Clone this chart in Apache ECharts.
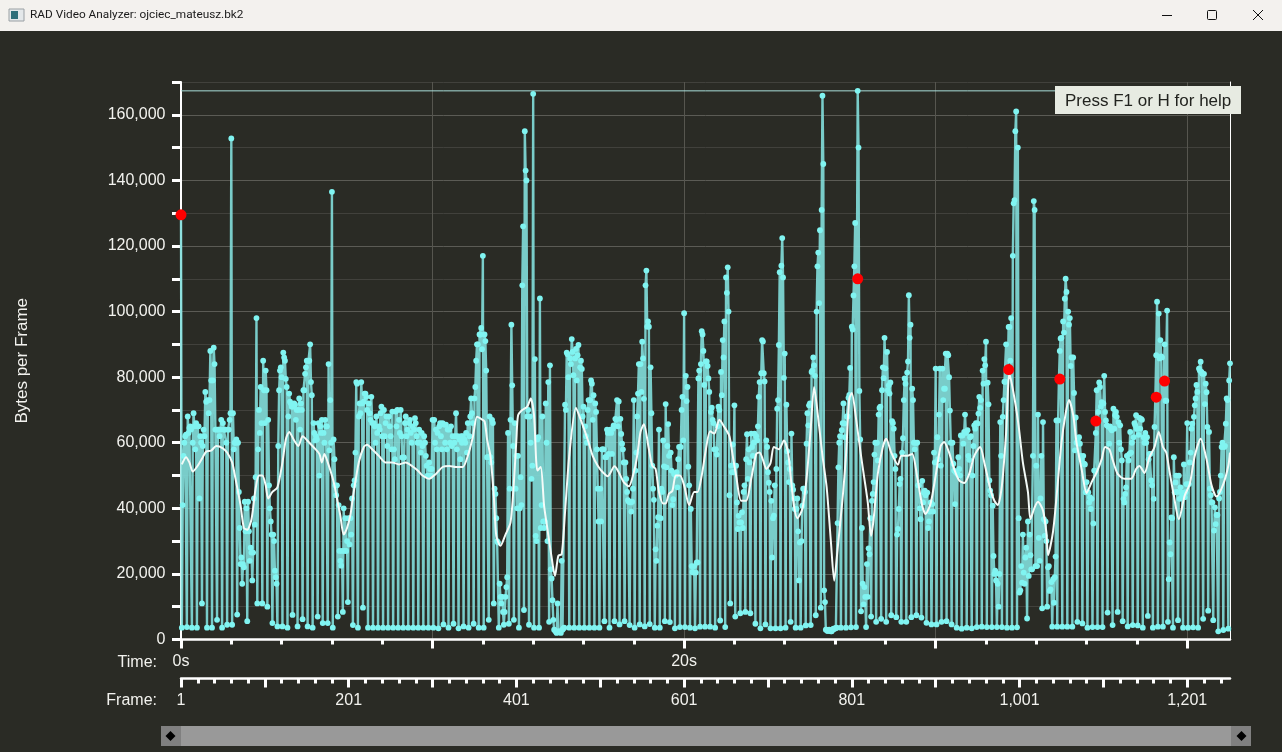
<!DOCTYPE html>
<html><head><meta charset="utf-8">
<style>html,body{margin:0;padding:0;background:#2a2b25;overflow:hidden}#c{width:1282px;height:752px}</style>
<script src="https://cdn.jsdelivr.net/npm/echarts@6/dist/echarts.min.js"></script></head>
<body><div id="c"></div>
<script>
const firstFrameKB = [129.5];
// kilobytes per frame: one low frame followed by five high frames, repeating
const frameKB = [
3.6,41,56,60,62,62.5, 3.8,68,63,64.5,65,64, 3.6,60,69,65,58,66, 3.6,65,65,43,62,60,
11,59,64,62,75.5,72.5, 3.6,73,69,73,88,79, 3.6,79,89,84,64,64, 6,64,64,62,64,67,
3.6,66,64,64,64,60, 4.5,64,64,67,69,152.8, 4.5,69,58,60,60,61, 7.6,60,45,34,23,25,
17,23,22,42,33,40, 5.6,42,33,24,28,26.5, 18,26.5,43,35,49.5,98, 11,58,70,63,77,66,
11,85,76,66,82,76, 10,67,47,40,36,32, 5,32,30,21,19,17, 4,59,76,82,83,80,
4,87.5,86,85,79.5,77, 3.6,68,75,72.5,72,71, 7.5,71,72,71.6,67,70, 4,70,73.5,64,72,70,
6.2,76,76,81,83,85, 4,85,85,90,78.5,74.5, 3.6,66,63,60.7,62,61, 7,66,50,65,63,67,
5,63,60,67,65,65, 5,84,57.7,73,60,136.5, 3.6,61,55,47,44,47, 7,41,27,24,22.5,27,
8.4,40,27,37,27,30, 11.4,37,29,37,32,43, 4.4,47,48.5,57,78.5,78, 3.6,68,72,69,78.5,72,
9.7,72.5,75,75,74,70, 3.6,72,69,67,74,66, 3.6,66,65,60,68,63, 3.6,65,64,69,71,62,
3.6,70,62,66,68,59, 3.6,68,65,62,58,69.5, 3.6,58,55,69.5,65,70, 3.6,67,63,70,62,55.5,
3.6,55.5,66,68,62,64, 3.6,66,67,63,60,65, 3.6,64,67.5,66,62,60, 3.6,64,60,57,63,59,
3.6,62,60,56,53,50, 3.6,54,52,50,52,67, 3.6,67,60,64,58,63, 3.4,65,66,62,58,66,
4.6,65.5,60,65.5,58,64, 3.6,64,60,65,59,62, 4.8,60,62,69,58,62, 3.4,61,55,62,60,62,
4,61,60,63,57,66, 3.6,62,68,73.5,69,66, 4.8,73.5,77,85,90,90, 3.6,93,93,95,88.5,117,
3.6,93,91,82,55.6,55.6, 6,68,55.6,54,67,66, 11,46,44.4,37,30,29.6, 3.6,17,13,11,13,8.4,
4.5,8.4,13,16,19,63, 4.8,46,67,96,77.5,59, 6,66,46,56,40,56, 3.6,40,49.5,41,108,126,
9,155,143,140,68,70, 4.5,68,60,49,53,166.4, 3.6,85.5,31.6,30,61,61.7, 3.6,104,34,41,68,36,
34,36,72,60,30,78.5, 5.4,83.6,21.4,18.6,12,6, 3,2.8,2.4,2,11,2.5, 2.5,2.4,2,24,3,3.4,
3.6,71.6,70,87.5,87,80, 3.6,85.7,84,91.6,87.7,80.6, 3.6,85.7,88.6,79,86.7,89.8, 3.6,83,85,82.5,68,71,
3.6,65,62,60,70,73, 3.6,73,79,78,67,74.5, 3.6,72,69.4,58,46,36, 3.6,46,36,58,58,58,
5.6,55.6,55.6,64,63,56.6, 3.6,64,63,56.6,64.3,65.3, 5.6,67.3,67,73,65,72.6, 4.6,67.3,62.7,59.7,58,54,
5.6,54,49,45,42.5,42, 4.4,41.8,39,42,46,73, 3.6,51.5,57,68,75,84, 4.6,84,75.5,90.8,85.7,73.4,
4,108,112.5,95.4,97,95.4, 4.7,83,69,53,46,42.6, 3.6,27.5,24,34.7,37.3,64, 3.6,37,46,45,60.7,52.8,
5.6,71.8,52.5,59,65.7,56, 5.3,57,51.5,41,42.8,50.5, 3.4,50,51,46.4,55,58.7, 3.8,58.7,70,74,60.7,99.5,
3.8,80.4,72.7,77,52.7,47, 3.6,39.8,22.4,20.6,20.4,22.4, 3.4,20.4,23.5,23.5,79.6,82, 3.9,84,94,93,88,77.6,
3.9,84.8,84.8,83.4,79.6,75.5, 3.9,69.4,70.7,67,66,58, 3.6,58,56.4,65,71,70, 5.8,81.6,74.5,91.3,86,97,
3.8,110.4,105.7,113.5,100,44, 11,53,51,59.5,51,71.4, 7,53,41.8,33.7,37.7,35.7, 8,35.7,38.8,34,45,47,
8.4,55,62.6,49,58,54, 8,62.8,58.7,56,60,62.8, 4.8,62,60.7,65,74,78.5, 3.4,81.2,91.3,90.9,81.2,78.7,
4.6,60.7,58.7,51,47.8,45, 3.4,42.3,25,37,37.8,47, 3.4,52,70.4,73,89.8,112, 3.4,114,122.4,110.4,79.8,87.2,
3.6,71.6,57.4,54,48,52, 5.4,62.8,47,45.7,43,39.8, 3.6,39.8,43,33,18,29.6, 3.6,30,40.8,46,46,45,
4.3,59.7,69,65.3,71.4,72, 4.4,81.6,82,86,83.6,80.4, 7.4,100,113.8,118,102.6,124.8, 9.7,131,165.8,145,15,11.4,
3,3,2.6,2.6,3,2.8, 2.5,2.5,3,3.3,3.2,3.4, 3.5,3.6,35.5,52.5,60,62, 3.6,63.8,66,72,65.9,61.7,
3.6,68,68,73.7,74.6,82.8, 3.7,95.4,94.5,104.9,113.8,127, 3.8,110,167.3,150,75.8,61, 8.6,34,17,10.7,16,13,
3.8,23,13,27.8,26,37, 7,42.3,44.4,48,56.4,60, 5.4,60,54.6,68.6,70.6,71, 6.3,76,83,79.7,92,82.7,
5.4,87.7,76,77.5,75,78.4, 7.4,66.6,66,64.3,56,52, 6.8,32,33.7,39.8,47.4,49, 5.4,57,61.4,73,79.6,78,
5.4,81.4,84.8,105,92,96, 6.8,76.5,73,60,58,60, 7.4,60,47,47,40,36.7, 6.7,48.4,41.8,44.8,45.4,44,
5.1,44.8,34,36,39,41.8, 4.6,41.3,39,57,54,82.6, 4.6,61.7,55,68.6,82.6,53, 5.4,82.6,73,76.5,76.5,87.2,
5.6,87.2,86.7,80,69.8,60, 4.6,60,53.6,51.5,41.3,51, 3.6,50.5,55.6,52,50,62.2, 3.3,62.2,59.7,63.3,68.6,63,
3.6,63.8,56,54.8,61.7,62, 3.4,50,59,65.3,64.3,66, 3.8,65.9,68.9,74,70.6,73, 3.9,82,78,85.5,83.6,90.8,
3.8,78.3,71.7,48.5,45.4,44, 3.8,40.8,25.5,20,21,18, 3.8,17,10,20,66.3,56, 3.8,67.9,73,78.6,78.6,90,
3.6,82.6,95.3,95.3,85,98, 3.6,117,133,134,155,161, 3.7,150,37,14.3,15,22.4, 17.3,32,20.4,17,25,28,
6.4,36,19.4,32,25.7,21.4, 21.4,56,133.7,131,22.4,53, 22.4,68.6,31,24,43,56, 9.5,66.3,36.7,31.6,36,30,
10,22,22.4,14.8,15.3,17.5, 3.9,18.4,11.2,19,25.3,66.8, 3.9,66.8,79.4,88,91.8,92, 3.9,97,93.6,103.9,110,106,
3.9,100,96,98,83.4,86, 3.9,86,75.2,57.7,67.7,60, 5.4,60,61.7,59.7,56,55, 4.9,56,53.6,53.4,44.9,48,
3.6,44.9,41.8,43.4,39.8,42.9, 3.8,35.4,51.5,51.5,63,76, 3.8,69.4,78.4,77,71,72.4, 3.8,72,80.4,69.4,66.8,65.3,
8.2,64.9,59.7,65,64.3,63.8, 4.4,70.4,64.3,68.4,69.4,67.9, 8.4,66.3,60,65.3,58,54.6, 5.6,42.9,41.8,44.4,46.4,56,
4,54.6,56.6,63.3,57,60, 4.4,61.7,66,65.3,68.4,64.2, 4.3,62.4,67.6,64.3,67.3,67, 3.6,61.7,60,63,60,61.7,
7.2,55,56.6,56.6,48.5,47, 3.6,42.9,64.8,73.9,86.7,103, 3.9,99.4,85.7,91.3,86.3,86, 3.9,78.8,90,72.8,72.8,100.3,
5.4,18.4,29.6,26,37.2,37, 3.6,55.6,44.9,47.9,50,45, 5.9,50,42.9,46.4,44.9,43.9, 3.6,53.4,43.4,44.9,47.4,66,
3.6,47.4,54,57,64.3,65.8, 3.7,67.9,71.4,73.5,77.6,75.5, 3.6,82.6,82,84.7,81.6,81, 6.3,81,71.8,78,75.4,64.8,
8.8,63.3,46,44,41.8,41.8, 5.9,33.2,40.3,35.2,38,38, 2.5,43,45,50,58.7,60, 2.9,58.7,59,65.8,73.5,73,
3.3,79,84.2
];
const avgFrames = [1,6,10,14,20,26,30,36,42,50,55,61,65,71,75,79,84,89,93,97,101,104,109,115,121,125,129,135,140,145,153,159,165,168,171,175,180,183,186,
190,194,198,202,206,212,218,222,228,236,244,252,260,268,276,282,288,296,304,312,320,328,336,342,348,353,357,362,365,369,
373,376,381,387,393,397,400,402,407,413,417,421,425,429,433,437,442,446,450,454,458,463,471,477,485,491,497,503,509,517,522,528,534,540,544,548,
552,558,562,566,570,575,578,582,586,590,595,600,606,612,616,621,626,631,636,642,648,654,658,662,668,674,680,686,690,694,698,703,707,713,719,724,
727,731,735,741,746,751,755,760,765,770,775,779,783,789,793,797,800,805,811,815,819,823,826,831,837,841,847,855,859,866,872,878,884,888,894,900,
906,910,916,922,928,934,940,946,953,958,965,970,974,979,984,988,994,999,1004,1010,1013,1018,1022,1028,1032,1034,1040,1045,1050,1055,1059,1064,1068,1074,1080,
1086,1092,1098,1102,1107,1111,1117,1125,1133,1139,1143,1149,1155,1161,1166,1171,1175,1179,1184,1190,1197,1203,1209,1216,1223,1229,1235,1243,1249,1251];
const avgKB = [53.4,55.6,54,51.2,53,55.6,57.3,57.6,59,58.3,57,54,49,41,34,33.5,36.6,46,50,50,47,43,45,46.4,54,61,63.3,60.7,59,62,60,58.4,56.6,54,56.6,54,50,47,43,
37.8,32,34,38,45,54,58.7,59.4,58,56,54,54,53.4,54,52.8,51.6,50,49,50.5,52.6,52.9,52.6,52.6,56,61.7,67.9,67.4,66.5,61,56,
44,31.6,28.6,32,35.7,48,61,68.4,70,71,73.5,68.4,51.5,52.6,40.8,33.7,25,19.4,25.5,26,38.8,56,70.7,66.8,61,56,53,51,49.8,52.8,51,48,46.7,51,56,63.3,
65.6,58,53,52,45,41.5,41.5,44.5,45.3,50,50,47,41,45,45,50,58,63.5,62.8,67,64.8,62,56,50,42.3,42.3,49,56.6,57,54.8,52,53.8,58.7,58,60.7,57,
50,40.8,37,39.8,49,64.3,77,67.3,56,46.4,30,17.9,27.5,43,56,73.5,75.2,67.4,56,49,41.8,31.6,36.7,50.5,58.7,61.2,57,53.3,56,56,56.6,49.5,40.8,38.3,41.5,50,
59,60.2,57,52,48.5,47.7,50.5,56,58.7,54,46,42.3,41,47,63,81,73.5,65,54,45,36.7,40.3,42,39.3,32.6,25.7,33,46,60,68.9,73,68.4,60,52,44.7,
48,51,55,58.7,58,54.8,50.5,49,49,52,52.9,50.8,55.6,58.7,63.3,58.7,57,51,43.9,36.7,43.9,47.4,56,61.2,55,47,43.6,47.4,53,57];
const selectedFrames = [0,807,987,1048,1091,1163,1173];
const selectedKB = [129.5,110,82.3,79.4,66.6,73.9,78.8];
const maxFrameKB = [167.3];
const lastFrame = 1251;
const fps = 30;
const yTickStep = 10000;
const yMax = 170000;
const titleText = 'RAD Video Analyzer: ojciec_mateusz.bk2';
const helpText = 'Press F1 or H for help';

const frameValues = firstFrameKB.concat(frameKB).map((v,i)=>[i,v*1000]);
const avgValues = avgFrames.map((f,i)=>[f,avgKB[i]*1000]);
const selectedValues = selectedFrames.map((f,i)=>[f,selectedKB[i]*1000]);
const maxLine = [[0,maxFrameKB[0]*1000],[lastFrame,maxFrameKB[0]*1000]];
const font = '"Liberation Sans", Arial, sans-serif';
const fg = '#f2f2ee';

const chart = echarts.init(document.getElementById('c'), null, {renderer:'canvas', width:1282, height:752});
const diamond = (x,y)=>({type:'polygon',silent:true,shape:{points:[[x-5,y],[x,y-5],[x+5,y],[x,y+5]]},style:{fill:'#000'}});
chart.setOption({
  animation:false,
  backgroundColor:'#2a2b25',
  textStyle:{fontFamily:font},
  grid:{left:181,top:82,width:1049,height:557.5,containLabel:false,outerBoundsMode:'none'},
  xAxis:[
    {type:'value',position:'bottom',min:0,max:lastFrame/fps,interval:10,
     axisLine:{show:true,onZero:false,lineStyle:{color:'#fff',width:2.5}},
     axisTick:{show:true,length:9,lineStyle:{color:'#fff',width:3},customValues:[0,10,20,30,40]},
     minorTick:{show:true,splitNumber:5,length:5,lineStyle:{color:'#fff',width:3}},
     axisLabel:{color:fg,fontSize:16,margin:14,customValues:[0,20,40],formatter:v=>v+'s',showMaxLabel:false},
     splitLine:{show:true,lineStyle:{color:'#56564f',width:1}}},
    {type:'value',position:'bottom',offset:39,min:0,max:lastFrame,interval:100,
     axisLine:{show:true,onZero:false,lineStyle:{color:'#fff',width:2.5}},
     axisTick:{show:true,length:9,lineStyle:{color:'#fff',width:3},customValues:[0,100,200,300,400,500,600,700,800,900,1000,1100,1200]},
     minorTick:{show:true,splitNumber:5,length:5,lineStyle:{color:'#fff',width:3}},
     axisLabel:{color:fg,fontSize:16,margin:14,customValues:[0,200,400,600,800,1000,1200],formatter:v=>(v+1).toLocaleString('en-US')},
     splitLine:{show:false}}
  ],
  yAxis:[
    {type:'value',min:0,max:yMax,interval:yTickStep,name:'Bytes per Frame',nameLocation:'middle',nameGap:150,nameRotate:90,
     nameTextStyle:{color:fg,fontSize:17},
     axisLine:{show:true,onZero:false,lineStyle:{color:'#fff',width:2}},
     axisTick:{show:true,length:9,lineStyle:{color:'#fff',width:3}},
     axisLabel:{color:fg,fontSize:16,margin:15.5,formatter:v=>v%20000===0?v.toLocaleString('en-US'):''},
     splitLine:{show:true,lineStyle:{color:['#5b5b55','#41413c'],width:1}}},
    {type:'value',position:'right',min:0,max:yMax,interval:yTickStep,
     axisLine:{show:true,onZero:false,lineStyle:{color:'#fff',width:1}},axisTick:{show:false},axisLabel:{show:false},splitLine:{show:false}}
  ],
  series:[
    {type:'line',name:'Maximum',xAxisIndex:1,yAxisIndex:0,data:maxLine,symbol:'none',lineStyle:{color:'#a8ded9',width:1},z:2},
    {type:'line',name:'Bytes per frame',xAxisIndex:1,yAxisIndex:0,data:frameValues,showAllSymbol:true,symbol:'circle',symbolSize:5.8,
     lineStyle:{color:'#82dedb',width:2.4,opacity:0.9},itemStyle:{color:'#80f4f1'},z:3,clip:true},
    {type:'line',name:'Average',xAxisIndex:1,yAxisIndex:0,data:avgValues,symbol:'none',smooth:0.25,
     lineStyle:{color:'#f4fbf8',width:2},z:4},
    {type:'scatter',name:'Selected',xAxisIndex:1,yAxisIndex:0,data:selectedValues,symbol:'circle',symbolSize:11,clip:true,itemStyle:{color:'#ff0000',opacity:1},z:5}
  ],
  graphic:[
    {type:'rect',silent:true,z:100,shape:{x:0,y:0,width:1282,height:31},style:{fill:'#f3f1ee'}},
    {type:'rect',silent:true,z:101,shape:{x:9,y:9,width:15,height:12},style:{fill:'#e4e8ea',stroke:'#9aa0a4',lineWidth:1}},
    {type:'rect',silent:true,z:102,shape:{x:11,y:11,width:7,height:8},style:{fill:'#2f6f7a'}},
    {type:'text',silent:true,z:101,style:{x:30,y:15.5,text:titleText,fill:'#1a1a1a',font:'11.8px Roboto, sans-serif',verticalAlign:'middle'}},
    {type:'line',silent:true,z:101,shape:{x1:1162,y1:15.5,x2:1172,y2:15.5},style:{stroke:'#111',lineWidth:1}},
    {type:'rect',silent:true,z:101,shape:{x:1207.5,y:10.5,width:9,height:9,r:1},style:{fill:'none',stroke:'#111',lineWidth:1}},
    {type:'line',silent:true,z:101,shape:{x1:1253,y1:10,x2:1263,y2:20},style:{stroke:'#111',lineWidth:1}},
    {type:'line',silent:true,z:101,shape:{x1:1263,y1:10,x2:1253,y2:20},style:{stroke:'#111',lineWidth:1}},
    {type:'rect',silent:true,z:100,shape:{x:1055,y:86,width:186,height:28},style:{fill:'#e7ebe2'}},
    {type:'text',silent:true,z:101,style:{x:1065,y:101.5,text:helpText,fill:'#22231f',font:'17px '+font,verticalAlign:'middle'}},
    {type:'text',silent:true,z:101,style:{x:157,y:663,text:'Time:',fill:fg,font:'16px '+font,align:'right',verticalAlign:'middle'}},
    {type:'text',silent:true,z:101,style:{x:157,y:701,text:'Frame:',fill:fg,font:'16px '+font,align:'right',verticalAlign:'middle'}},
    {type:'rect',silent:true,z:100,shape:{x:161,y:726,width:1090,height:20},style:{fill:'#999999'}},
    {type:'rect',silent:true,z:101,shape:{x:161,y:726,width:20,height:20},style:{fill:'#808080'}},
    {type:'rect',silent:true,z:101,shape:{x:1231,y:726,width:20,height:20},style:{fill:'#808080'}},
    Object.assign(diamond(170.5,736),{z:102}),
    Object.assign(diamond(1241.5,736),{z:102})
  ]
});
</script></body></html>
